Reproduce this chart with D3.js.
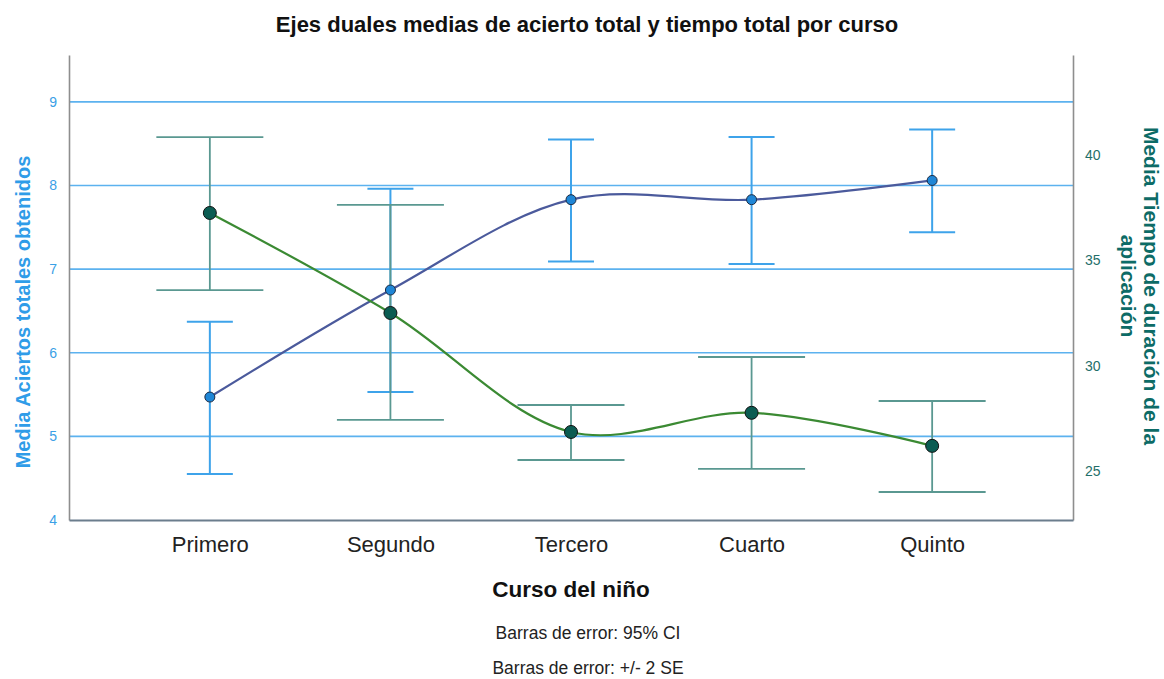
<!DOCTYPE html>
<html>
<head>
<meta charset="utf-8">
<script src="https://cdn.jsdelivr.net/npm/d3@7"></script>
<style>
  body { margin: 0; background: #fff; }
  text { font-family: "Liberation Sans", Arial, sans-serif; }
</style>
</head>
<body>
<div id="chart"></div>
<script>
// datos
var cursos = ["Primero", "Segundo", "Tercero", "Cuarto", "Quinto"];
var aciertosMedia = [5.47, 6.75, 7.83, 7.83, 8.06];
var aciertosLo = [4.55, 5.53, 7.09, 7.06, 7.44];
var aciertosHi = [6.37, 7.96, 8.55, 8.58, 8.67];
var tiempoMedia = [37.25, 32.5, 26.85, 27.76, 26.19];
var tiempoLo = [33.59, 27.42, 25.52, 25.1, 24.0];
var tiempoHi = [40.85, 37.63, 28.13, 30.41, 28.32];
var ticksIzq = [4, 5, 6, 7, 8, 9];
var ticksDer = [25, 30, 35, 40];

var width = 1164, height = 679;
var padding = { top: 55, right: 91, bottom: 159, left: 69 };

var svg = d3.select("#chart")
    .append("svg")
    .attr("width", width)
    .attr("height", height);

var xScale = d3.scalePoint()
    .domain(cursos)
    .range([padding.left, width - padding.right])
    .padding(0.78);
var yLeft = d3.scaleLinear()
    .domain([4, 9.56])
    .range([height - padding.bottom, padding.top]);
var yRight = d3.scaleLinear()
    .domain([22.67, 44.75])
    .range([height - padding.bottom, padding.top]);

var datos = cursos.map(function(c, i) {
    return { curso: c, a: aciertosMedia[i], aLo: aciertosLo[i], aHi: aciertosHi[i],
             t: tiempoMedia[i], tLo: tiempoLo[i], tHi: tiempoHi[i] };
});

// lineas de cuadricula
svg.append("g")
    .selectAll("line")
    .data(ticksIzq.filter(function(d) { return d > 4; }))
    .enter()
    .append("line")
    .attr("x1", padding.left)
    .attr("x2", width - padding.right)
    .attr("y1", function(d) { return yLeft(d); })
    .attr("y2", function(d) { return yLeft(d); })
    .attr("stroke", "#5cb2ef")
    .attr("stroke-width", 1.6);

// ejes
var axisL = svg.append("g")
    .attr("transform", "translate(" + padding.left + ",0)")
    .call(d3.axisLeft(yLeft).tickValues(ticksIzq).tickFormat(d3.format("d")).tickSize(0).tickPadding(12));
axisL.select(".domain").attr("stroke", "#8e8e8e").attr("stroke-width", 1.6);
axisL.selectAll("text").attr("fill", "#3aa0e6").style("font-size", "14px")
    .style("font-family", "Liberation Sans, Arial, sans-serif");

var axisR = svg.append("g")
    .attr("transform", "translate(" + (width - padding.right) + ",0)")
    .call(d3.axisRight(yRight).tickValues(ticksDer).tickFormat(d3.format("d")).tickSize(0).tickPadding(12));
axisR.select(".domain").attr("stroke", "#8e8e8e").attr("stroke-width", 1.6);
axisR.selectAll("text").attr("fill", "#1f6f6a").style("font-size", "14px")
    .style("font-family", "Liberation Sans, Arial, sans-serif");

var axisB = svg.append("g")
    .attr("transform", "translate(0," + (height - padding.bottom) + ")")
    .call(d3.axisBottom(xScale).tickSize(0).tickPadding(16).tickSizeOuter(0));
axisB.select(".domain").attr("stroke", "#6b7d8d").attr("stroke-width", 2);
axisB.selectAll("text").attr("fill", "#222").style("font-size", "22px")
    .style("font-family", "Liberation Sans, Arial, sans-serif");

// barras de error
function errorBars(cls, lo, hi, half, color, sw) {
    var g = svg.append("g").attr("class", cls);
    var sel = g.selectAll("g").data(datos).enter().append("g");
    sel.append("line")
        .attr("x1", function(d) { return xScale(d.curso); })
        .attr("x2", function(d) { return xScale(d.curso); })
        .attr("y1", lo).attr("y2", hi)
        .attr("stroke", color).attr("stroke-width", sw);
    sel.append("line")
        .attr("x1", function(d) { return xScale(d.curso) - half; })
        .attr("x2", function(d) { return xScale(d.curso) + half; })
        .attr("y1", hi).attr("y2", hi)
        .attr("stroke", color).attr("stroke-width", sw);
    sel.append("line")
        .attr("x1", function(d) { return xScale(d.curso) - half; })
        .attr("x2", function(d) { return xScale(d.curso) + half; })
        .attr("y1", lo).attr("y2", lo)
        .attr("stroke", color).attr("stroke-width", sw);
}
errorBars("ebA", function(d) { return yLeft(d.aLo); }, function(d) { return yLeft(d.aHi); }, 23, "#3ea3ea", 2);
errorBars("ebT", function(d) { return yRight(d.tLo); }, function(d) { return yRight(d.tHi); }, 53.5, "#5a9891", 1.8);

// lineas
var lineA = d3.line()
    .x(function(d) { return xScale(d.curso); })
    .y(function(d) { return yLeft(d.a); })
    .curve(d3.curveCatmullRom);
var lineT = d3.line()
    .x(function(d) { return xScale(d.curso); })
    .y(function(d) { return yRight(d.t); })
    .curve(d3.curveCatmullRom);

svg.append("path")
    .attr("d", lineA(datos))
    .attr("fill", "none")
    .attr("stroke", "#4b5a9c")
    .attr("stroke-width", 2.2);
svg.append("path")
    .attr("d", lineT(datos))
    .attr("fill", "none")
    .attr("stroke", "#3b8a33")
    .attr("stroke-width", 2.2);

svg.append("g")
    .selectAll("circle")
    .data(datos)
    .enter()
    .append("circle")
    .attr("cx", function(d) { return xScale(d.curso); })
    .attr("cy", function(d) { return yLeft(d.a); })
    .attr("r", 5)
    .attr("fill", "#1f86d6")
    .attr("stroke", "#1b2b44")
    .attr("stroke-width", 1);
svg.append("g")
    .selectAll("circle")
    .data(datos)
    .enter()
    .append("circle")
    .attr("cx", function(d) { return xScale(d.curso); })
    .attr("cy", function(d) { return yRight(d.t); })
    .attr("r", 6.5)
    .attr("fill", "#0b5c52")
    .attr("stroke", "#111")
    .attr("stroke-width", 1);

// textos
svg.append("text")
    .attr("x", 587).attr("y", 32)
    .attr("text-anchor", "middle")
    .style("font-size", "22px").style("font-weight", "bold")
    .attr("fill", "#111")
    .text("Ejes duales medias de acierto total y tiempo total por curso");

svg.append("text")
    .attr("transform", "translate(30,312) rotate(-90)")
    .attr("text-anchor", "middle")
    .style("font-size", "20px").style("font-weight", "bold")
    .attr("fill", "#2f9ce8")
    .text("Media Aciertos totales obtenidos");

svg.append("text")
    .attr("transform", "translate(1144,286) rotate(90)")
    .attr("text-anchor", "middle")
    .style("font-size", "21px").style("font-weight", "bold")
    .attr("fill", "#0d6b66")
    .text("Media Tiempo de duración de la");
svg.append("text")
    .attr("transform", "translate(1121,286) rotate(90)")
    .attr("text-anchor", "middle")
    .style("font-size", "21px").style("font-weight", "bold")
    .attr("fill", "#0d6b66")
    .text("aplicación");

svg.append("text")
    .attr("x", 571).attr("y", 597)
    .attr("text-anchor", "middle")
    .style("font-size", "22.5px").style("font-weight", "bold")
    .attr("fill", "#111")
    .text("Curso del niño");

svg.append("text")
    .attr("x", 588).attr("y", 639)
    .attr("text-anchor", "middle")
    .style("font-size", "17.5px")
    .attr("fill", "#222")
    .text("Barras de error: 95% CI");
svg.append("text")
    .attr("x", 588).attr("y", 674)
    .attr("text-anchor", "middle")
    .style("font-size", "17.5px")
    .attr("fill", "#222")
    .text("Barras de error: +/- 2 SE");
</script>
</body>
</html>
